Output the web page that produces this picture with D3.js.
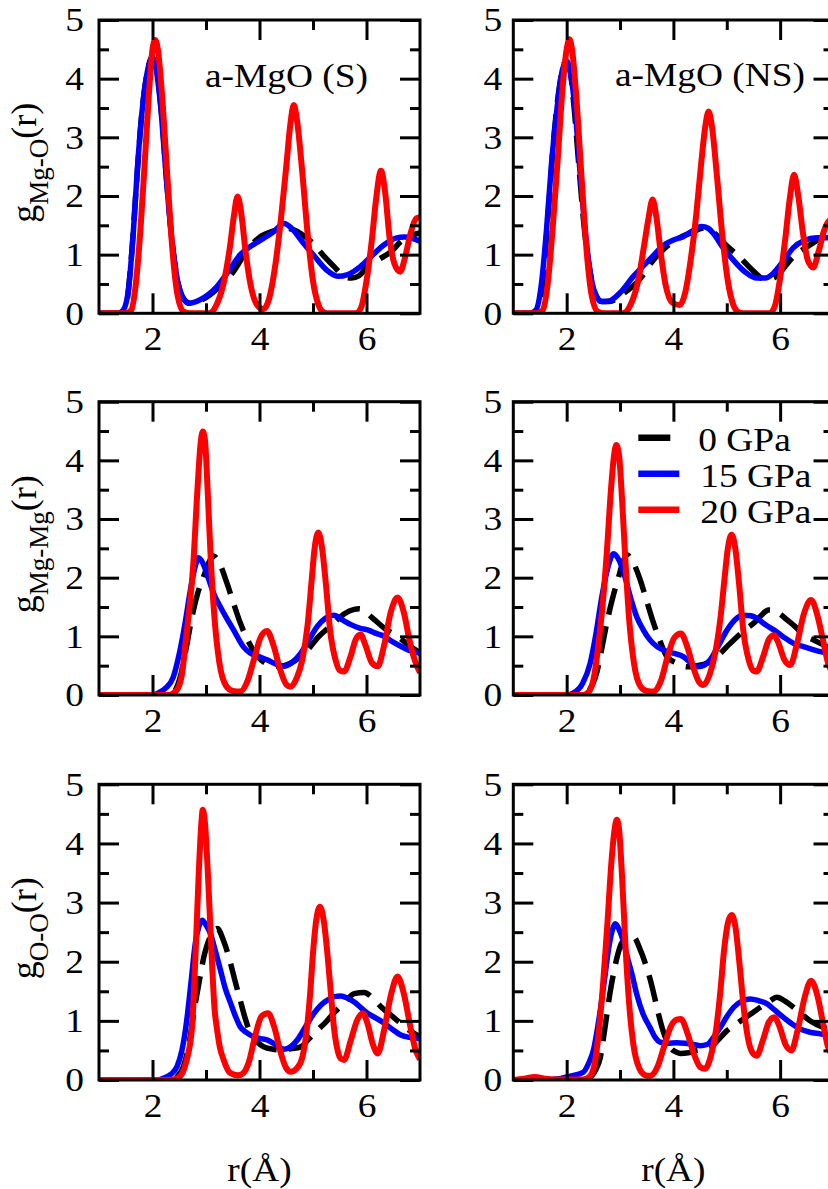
<!DOCTYPE html>
<html><head><meta charset="utf-8">
<script src="https://cdn.jsdelivr.net/npm/d3@7"></script>
<style>
html,body{margin:0;padding:0;background:#fff;}
svg text{font-family:"Liberation Serif","Times New Roman",serif;fill:#000;}
</style></head>
<body><svg id="chart" width="828" height="1189"></svg>
<script>
// ---------------- data ----------------
const seriesNames = ["0 GPa", "15 GPa", "20 GPa"];
const panelTitles = ["a-MgO (S)", "a-MgO (NS)"];
const pairLabels = ["Mg-O", "Mg-Mg", "O-O"];
const xTickValues = [2, 4, 6];
const yTickValues = [0, 1, 2, 3, 4, 5];
const xLabel = "r(Å)";

// g_Mg-O, a-MgO (S)
const mgo_S_0 = [[1.0,0],[1.4,0],[1.5,0.1],[1.6,0.9],[1.7,2.2],[1.8,3.4],[1.9,4.1],[2.0,4.35],[2.08,4.15],[2.17,3.4],[2.27,2.2],[2.37,1.2],[2.47,0.55],[2.58,0.25],[2.7,0.17],[2.85,0.2],[3.05,0.3],[3.3,0.5],[3.52,0.72],[3.75,1.05],[4.02,1.31],[4.25,1.4],[4.5,1.45],[4.77,1.36],[4.99,1.2],[5.2,0.98],[5.39,0.8],[5.58,0.63],[5.72,0.6],[5.86,0.64],[6.0,0.78],[6.23,0.92],[6.46,1.05],[6.64,1.22],[6.82,1.32],[7.0,1.37]];
const mgo_S_15 = [[1.0,0],[1.35,0],[1.45,0.05],[1.55,0.4],[1.64,1.36],[1.72,2.5],[1.8,3.4],[1.9,4.1],[1.99,4.37],[2.07,4.15],[2.15,3.55],[2.25,2.4],[2.35,1.35],[2.45,0.65],[2.55,0.3],[2.68,0.17],[2.89,0.23],[3.2,0.45],[3.52,0.85],[3.64,1.0],[3.85,1.15],[4.08,1.28],[4.25,1.38],[4.46,1.53],[4.6,1.45],[4.8,1.22],[5.02,0.98],[5.25,0.74],[5.46,0.63],[5.65,0.66],[5.89,0.8],[6.1,0.98],[6.33,1.17],[6.55,1.28],[6.71,1.3],[6.85,1.28],[7.0,1.23]];
const mgo_S_20 = [[1.0,0],[1.5,0],[1.6,0.05],[1.7,0.6],[1.78,1.5],[1.85,2.5],[1.93,3.7],[2.0,4.5],[2.05,4.66],[2.1,4.5],[2.18,3.7],[2.28,2.3],[2.38,1.0],[2.47,0.3],[2.58,0.03],[2.7,0],[3.05,0],[3.2,0.15],[3.35,0.6],[3.45,1.15],[3.52,1.65],[3.59,1.99],[3.66,1.7],[3.74,1.05],[3.83,0.5],[3.95,0.15],[4.07,0.07],[4.18,0.25],[4.3,0.85],[4.4,1.6],[4.5,2.5],[4.58,3.25],[4.64,3.55],[4.7,3.3],[4.8,2.4],[4.9,1.35],[5.0,0.55],[5.1,0.15],[5.2,0.02],[5.3,0],[5.8,0],[5.9,0.1],[6.0,0.55],[6.1,1.25],[6.18,1.95],[6.27,2.43],[6.35,2.05],[6.43,1.3],[6.52,0.85],[6.63,0.71],[6.72,0.95],[6.82,1.35],[6.93,1.62],[7.0,1.64]];

// g_Mg-O, a-MgO (NS)
const mgo_NS_0 = [[1.0,0],[1.35,0],[1.47,0.08],[1.57,0.7],[1.67,1.9],[1.77,3.1],[1.87,3.9],[1.97,4.28],[2.05,4.2],[2.13,3.6],[2.23,2.5],[2.33,1.45],[2.43,0.75],[2.53,0.35],[2.66,0.2],[2.8,0.2],[3.05,0.33],[3.37,0.58],[3.6,0.88],[3.85,1.12],[4.1,1.28],[4.35,1.38],[4.55,1.45],[4.75,1.38],[5.0,1.15],[5.25,0.95],[5.5,0.72],[5.7,0.58],[5.87,0.6],[6.05,0.75],[6.25,0.97],[6.5,1.13],[6.7,1.25],[6.88,1.36],[7.0,1.4]];
const mgo_NS_15 = [[1.0,0],[1.3,0],[1.42,0.05],[1.52,0.45],[1.62,1.4],[1.72,2.6],[1.82,3.5],[1.92,4.15],[2.0,4.3],[2.08,4.05],[2.16,3.45],[2.26,2.3],[2.36,1.3],[2.46,0.6],[2.55,0.3],[2.66,0.2],[2.8,0.21],[3.0,0.35],[3.25,0.63],[3.45,0.82],[3.62,0.98],[3.8,1.15],[4.0,1.25],[4.19,1.31],[4.35,1.4],[4.53,1.48],[4.65,1.45],[4.75,1.36],[4.93,1.12],[5.12,0.91],[5.35,0.7],[5.56,0.6],[5.72,0.6],[5.87,0.68],[6.05,0.88],[6.25,1.12],[6.45,1.24],[6.69,1.29],[6.85,1.29],[7.0,1.27]];
const mgo_NS_20 = [[1.0,0],[1.45,0],[1.55,0.05],[1.65,0.55],[1.75,1.6],[1.83,2.6],[1.92,3.8],[2.0,4.5],[2.05,4.67],[2.1,4.5],[2.18,3.7],[2.28,2.3],[2.38,1.0],[2.47,0.3],[2.58,0.03],[2.7,0],[3.05,0],[3.2,0.15],[3.35,0.6],[3.45,1.15],[3.53,1.6],[3.61,1.94],[3.68,1.65],[3.76,1.05],[3.85,0.5],[3.98,0.18],[4.12,0.14],[4.22,0.35],[4.33,0.95],[4.43,1.7],[4.52,2.55],[4.6,3.2],[4.66,3.44],[4.72,3.2],[4.82,2.3],[4.92,1.3],[5.02,0.55],[5.12,0.15],[5.22,0.02],[5.3,0],[5.8,0],[5.9,0.12],[6.0,0.6],[6.1,1.3],[6.18,1.95],[6.26,2.36],[6.34,2.0],[6.43,1.35],[6.52,0.9],[6.62,0.78],[6.72,1.05],[6.82,1.4],[6.92,1.58],[7.0,1.6]];

// g_Mg-Mg, a-MgO (S)
const mgmg_S_0 = [[1.0,0],[2.3,0],[2.4,0.05],[2.52,0.31],[2.63,0.8],[2.74,1.34],[2.85,1.75],[2.96,2.03],[3.05,2.25],[3.14,2.37],[3.25,2.25],[3.39,1.91],[3.52,1.55],[3.64,1.23],[3.8,0.9],[3.96,0.66],[4.1,0.55],[4.27,0.49],[4.45,0.5],[4.6,0.55],[4.77,0.66],[4.93,0.8],[5.08,0.97],[5.23,1.1],[5.39,1.23],[5.58,1.38],[5.77,1.46],[5.87,1.47],[6.0,1.4],[6.14,1.29],[6.35,1.13],[6.58,1.0],[6.8,0.84],[7.0,0.72]];
const mgmg_S_15 = [[1.0,0],[2.0,0],[2.1,0.03],[2.25,0.12],[2.39,0.31],[2.5,0.7],[2.61,1.23],[2.72,1.85],[2.8,2.2],[2.86,2.34],[2.94,2.25],[3.04,2.0],[3.14,1.74],[3.3,1.45],[3.52,1.1],[3.7,0.82],[3.83,0.71],[4.0,0.65],[4.14,0.6],[4.3,0.53],[4.46,0.49],[4.6,0.55],[4.77,0.71],[4.93,0.95],[5.08,1.17],[5.22,1.3],[5.39,1.36],[5.55,1.28],[5.71,1.2],[5.87,1.14],[6.02,1.11],[6.18,1.05],[6.33,1.0],[6.5,0.9],[6.64,0.83],[6.8,0.76],[7.0,0.71]];
const mgmg_S_20 = [[1.0,0],[2.3,0],[2.45,0.08],[2.55,0.35],[2.62,0.9],[2.68,1.4],[2.76,2.2],[2.84,3.5],[2.9,4.3],[2.94,4.49],[2.98,4.35],[3.03,3.5],[3.09,2.3],[3.16,1.3],[3.25,0.55],[3.38,0.15],[3.5,0.07],[3.64,0.06],[3.78,0.25],[3.9,0.62],[4.02,0.98],[4.14,1.09],[4.26,0.85],[4.38,0.45],[4.5,0.18],[4.58,0.14],[4.7,0.3],[4.8,0.6],[4.9,1.2],[4.97,1.9],[5.03,2.5],[5.1,2.77],[5.17,2.5],[5.24,1.9],[5.32,1.1],[5.42,0.6],[5.5,0.42],[5.58,0.4],[5.7,0.65],[5.8,0.95],[5.89,1.03],[5.98,0.85],[6.1,0.55],[6.21,0.49],[6.33,0.85],[6.45,1.4],[6.58,1.66],[6.7,1.4],[6.8,0.95],[6.9,0.6],[7.0,0.38]];

// g_Mg-Mg, a-MgO (NS)
const mgmg_NS_0 = [[1.0,0],[2.3,0],[2.42,0.08],[2.56,0.37],[2.66,0.8],[2.75,1.22],[2.86,1.65],[2.97,2.0],[3.05,2.25],[3.13,2.39],[3.22,2.3],[3.38,1.96],[3.5,1.6],[3.63,1.22],[3.75,0.92],[3.88,0.65],[4.05,0.55],[4.25,0.48],[4.45,0.5],[4.63,0.54],[4.75,0.62],[4.88,0.71],[5.03,0.85],[5.19,0.99],[5.35,1.12],[5.5,1.22],[5.65,1.36],[5.78,1.45],[5.9,1.44],[6.0,1.38],[6.13,1.28],[6.3,1.15],[6.44,1.02],[6.6,0.95],[6.75,0.88],[7.0,0.78]];
const mgmg_NS_15 = [[1.0,0],[2.0,0],[2.12,0.03],[2.3,0.2],[2.44,0.54],[2.55,1.05],[2.66,1.68],[2.78,2.2],[2.88,2.41],[2.98,2.3],[3.09,2.02],[3.2,1.65],[3.31,1.34],[3.43,1.12],[3.56,0.94],[3.7,0.82],[3.88,0.74],[4.05,0.7],[4.19,0.65],[4.32,0.55],[4.44,0.48],[4.56,0.5],[4.69,0.6],[4.85,0.85],[5.0,1.1],[5.15,1.28],[5.31,1.36],[5.45,1.35],[5.56,1.31],[5.72,1.2],[5.88,1.11],[6.06,0.99],[6.25,0.88],[6.45,0.82],[6.63,0.77],[6.8,0.73],[7.0,0.7]];
const mgmg_NS_20 = [[1.0,0],[2.3,0],[2.42,0.06],[2.52,0.35],[2.6,0.9],[2.67,1.5],[2.75,2.4],[2.83,3.5],[2.89,4.1],[2.93,4.26],[2.98,4.1],[3.04,3.3],[3.1,2.3],[3.17,1.3],[3.26,0.55],[3.38,0.15],[3.5,0.07],[3.63,0.06],[3.77,0.25],[3.89,0.65],[4.02,0.98],[4.14,1.05],[4.26,0.82],[4.38,0.45],[4.48,0.22],[4.56,0.17],[4.68,0.35],[4.78,0.7],[4.88,1.3],[4.96,2.0],[5.02,2.5],[5.09,2.73],[5.16,2.5],[5.23,1.9],[5.31,1.1],[5.41,0.6],[5.49,0.42],[5.56,0.4],[5.68,0.65],[5.79,0.95],[5.88,1.02],[5.97,0.88],[6.08,0.6],[6.19,0.51],[6.31,0.85],[6.45,1.4],[6.58,1.62],[6.7,1.35],[6.8,0.95],[6.9,0.54],[7.0,0.35]];

// g_O-O, a-MgO (S)
const oo_S_0 = [[1.0,0],[2.35,0],[2.45,0.05],[2.58,0.23],[2.68,0.6],[2.77,1.13],[2.87,1.65],[2.96,2.08],[3.08,2.42],[3.21,2.56],[3.33,2.35],[3.46,1.97],[3.55,1.65],[3.64,1.35],[3.73,1.05],[3.83,0.79],[3.95,0.65],[4.08,0.56],[4.25,0.52],[4.39,0.51],[4.6,0.53],[4.77,0.56],[4.93,0.7],[5.08,0.84],[5.24,0.98],[5.39,1.13],[5.58,1.3],[5.77,1.46],[5.96,1.48],[6.1,1.4],[6.27,1.24],[6.45,1.1],[6.64,0.96],[6.8,0.84],[7.0,0.73]];
const oo_S_15 = [[1.0,0],[2.1,0],[2.2,0.03],[2.35,0.1],[2.46,0.23],[2.55,0.5],[2.64,1.01],[2.72,1.65],[2.8,2.31],[2.87,2.6],[2.93,2.7],[3.0,2.62],[3.08,2.48],[3.17,2.2],[3.27,1.86],[3.36,1.55],[3.46,1.3],[3.55,1.08],[3.64,0.9],[3.76,0.8],[3.89,0.73],[4.02,0.7],[4.14,0.68],[4.3,0.6],[4.46,0.52],[4.58,0.56],[4.71,0.68],[4.86,0.9],[5.02,1.13],[5.15,1.27],[5.27,1.35],[5.4,1.41],[5.52,1.42],[5.65,1.38],[5.77,1.32],[5.9,1.22],[6.02,1.13],[6.17,1.05],[6.33,0.96],[6.48,0.86],[6.64,0.76],[6.8,0.72],[7.0,0.7]];
const oo_S_20 = [[1.0,0],[2.3,0],[2.46,0.03],[2.56,0.12],[2.64,0.34],[2.7,0.6],[2.74,0.9],[2.8,2.03],[2.86,3.4],[2.91,4.3],[2.94,4.57],[2.98,4.35],[3.04,3.4],[3.11,2.03],[3.16,1.2],[3.2,0.9],[3.26,0.55],[3.33,0.34],[3.45,0.12],[3.6,0.08],[3.7,0.12],[3.8,0.3],[3.92,0.75],[4.04,1.08],[4.16,1.13],[4.28,0.88],[4.4,0.45],[4.5,0.2],[4.58,0.14],[4.7,0.2],[4.8,0.38],[4.89,0.9],[4.95,1.5],[4.99,2.03],[5.06,2.7],[5.13,2.93],[5.2,2.7],[5.28,2.03],[5.34,1.4],[5.39,0.9],[5.46,0.5],[5.52,0.36],[5.58,0.34],[5.7,0.65],[5.82,1.0],[5.93,1.13],[6.02,0.95],[6.12,0.6],[6.21,0.45],[6.33,0.85],[6.46,1.45],[6.58,1.75],[6.7,1.45],[6.82,0.9],[6.92,0.5],[7.0,0.35]];

// g_O-O, a-MgO (NS)
const oo_NS_0 = [[1.0,0],[2.35,0],[2.45,0.05],[2.55,0.18],[2.63,0.38],[2.72,0.9],[2.81,1.46],[2.9,1.9],[3.0,2.25],[3.12,2.4],[3.25,2.42],[3.38,2.2],[3.5,1.9],[3.6,1.58],[3.69,1.23],[3.8,0.85],[3.94,0.55],[4.06,0.47],[4.13,0.45],[4.28,0.46],[4.44,0.5],[4.56,0.52],[4.69,0.55],[4.84,0.68],[5.0,0.83],[5.15,0.93],[5.31,1.03],[5.47,1.13],[5.63,1.23],[5.8,1.33],[5.94,1.4],[6.1,1.33],[6.25,1.23],[6.4,1.12],[6.56,1.0],[6.81,0.89],[7.0,0.85]];
const oo_NS_15 = [[1.0,0],[1.6,0],[1.85,0.02],[2.0,0.05],[2.15,0.08],[2.31,0.13],[2.42,0.3],[2.5,0.5],[2.6,1.0],[2.69,1.57],[2.8,2.3],[2.86,2.55],[2.91,2.64],[2.98,2.55],[3.06,2.35],[3.13,2.1],[3.22,1.8],[3.31,1.46],[3.43,1.12],[3.56,0.89],[3.66,0.72],[3.75,0.64],[3.9,0.62],[4.06,0.63],[4.22,0.62],[4.38,0.6],[4.5,0.58],[4.63,0.6],[4.75,0.72],[4.88,0.89],[5.0,1.07],[5.13,1.23],[5.3,1.34],[5.44,1.37],[5.6,1.34],[5.75,1.29],[5.9,1.18],[6.06,1.06],[6.22,0.95],[6.38,0.86],[6.55,0.81],[6.75,0.78],[7.0,0.74]];
const oo_NS_20 = [[1.0,0],[1.2,0.02],[1.4,0.05],[1.6,0.02],[1.8,0.01],[2.3,0.01],[2.42,0.05],[2.52,0.25],[2.6,0.8],[2.68,1.6],[2.76,2.6],[2.84,3.7],[2.9,4.25],[2.94,4.4],[2.98,4.25],[3.04,3.4],[3.1,2.3],[3.17,1.3],[3.25,0.6],[3.36,0.2],[3.48,0.08],[3.56,0.07],[3.7,0.22],[3.82,0.55],[3.95,0.9],[4.06,1.02],[4.14,1.03],[4.26,0.8],[4.38,0.45],[4.5,0.22],[4.59,0.19],[4.7,0.4],[4.8,0.85],[4.88,1.5],[4.95,2.2],[5.02,2.65],[5.09,2.79],[5.16,2.6],[5.24,1.95],[5.32,1.2],[5.41,0.65],[5.5,0.44],[5.56,0.41],[5.68,0.68],[5.79,0.98],[5.89,1.06],[5.99,0.9],[6.1,0.6],[6.21,0.5],[6.33,0.85],[6.46,1.4],[6.58,1.68],[6.7,1.42],[6.8,0.98],[6.9,0.55],[7.0,0.4]];

const panelData = [
  [[mgo_S_0, mgo_S_15, mgo_S_20], [mgo_NS_0, mgo_NS_15, mgo_NS_20]],
  [[mgmg_S_0, mgmg_S_15, mgmg_S_20], [mgmg_NS_0, mgmg_NS_15, mgmg_NS_20]],
  [[oo_S_0, oo_S_15, oo_S_20], [oo_NS_0, oo_NS_15, oo_NS_20]]
];

// ---------------- layout & style ----------------
const cols = [{x0: 99, x1: 420, labPad: 15}, {x0: 513.3, x1: 833.5, labPad: 11}];
const rows = [{top: 20, bot: 313.3}, {top: 401.7, bot: 695}, {top: 784.3, bot: 1080}];
const colors = ["#000000", "#0000ff", "#ff0000"];
const widths = [5.5, 5.5, 6];
const dashes = ["27,12", null, null];
const FS = 34;      // base font size
const SX = 1.1;     // horizontal stretch of the original's lettering

const svg = d3.select("#chart");
svg.append("rect").attr("width", 828).attr("height", 1189).attr("fill", "#fff");

// stretch a text horizontally about the point (ax, ay)
function stretch(t, ax, ay) {
  t.attr("transform", `translate(${ax},${ay}) scale(${SX},1) translate(${-ax},${-ay})`);
}

rows.forEach((row, ri) => {
  cols.forEach((col, ci) => {
    const x = d3.scaleLinear().domain([1, 7]).range([col.x0, col.x1]);
    const y = d3.scaleLinear().domain([0, 5]).range([row.bot, row.top]);
    const g = svg.append("g");
    const cid = `clip-${ri}-${ci}`;
    g.append("clipPath").attr("id", cid).append("rect")
      .attr("x", col.x0).attr("y", row.top).attr("width", col.x1 - col.x0).attr("height", row.bot - row.top);

    // curves
    const line = d3.line().x(d => x(d[0])).y(d => y(d[1])).curve(d3.curveMonotoneX);
    const curves = g.append("g").attr("clip-path", `url(#${cid})`);
    panelData[ri][ci].forEach((ser, si) => {
      curves.append("path").datum(ser).attr("d", line)
        .attr("fill", "none").attr("stroke", colors[si]).attr("stroke-width", widths[si])
        .attr("stroke-linejoin", "round")
        .attr("stroke-dasharray", dashes[si]);
    });

    // axes: ticks pointing inwards on all sides
    const minorX = [3, 5];
    const minorY = [0.5, 1.5, 2.5, 3.5, 4.5];
    const styleAxis = (sel) => {
      sel.select(".domain").remove();
      sel.selectAll("line").attr("stroke", "#000").attr("stroke-width", 3);
      sel.selectAll("text").style("font-family", '"Liberation Serif", serif').style("font-size", FS + "px").attr("fill", "#000")
        .each(function() { const t = d3.select(this); stretch(t, +t.attr("x") || 0, 0); });
    };
    g.append("g").attr("transform", `translate(0,${row.bot})`)
      .call(d3.axisBottom(x).tickValues(xTickValues).tickSize(-20).tickPadding(13).tickFormat(d3.format("d")))
      .call(styleAxis);
    g.append("g").attr("transform", `translate(0,${row.bot})`)
      .call(d3.axisBottom(x).tickValues(minorX).tickSize(-10).tickFormat("")).call(styleAxis);
    g.append("g").attr("transform", `translate(0,${row.top})`)
      .call(d3.axisTop(x).tickValues(xTickValues).tickSize(-20).tickFormat("")).call(styleAxis);
    g.append("g").attr("transform", `translate(0,${row.top})`)
      .call(d3.axisTop(x).tickValues(minorX).tickSize(-10).tickFormat("")).call(styleAxis);
    g.append("g").attr("transform", `translate(${col.x0},0)`)
      .call(d3.axisLeft(y).tickValues(yTickValues).tickSize(-20).tickPadding(col.labPad).tickFormat(d3.format("d")))
      .call(styleAxis);
    g.append("g").attr("transform", `translate(${col.x0},0)`)
      .call(d3.axisLeft(y).tickValues(minorY).tickSize(-10).tickFormat("")).call(styleAxis);
    g.append("g").attr("transform", `translate(${col.x1},0)`)
      .call(d3.axisRight(y).tickValues(yTickValues).tickSize(-20).tickFormat("")).call(styleAxis);
    g.append("g").attr("transform", `translate(${col.x1},0)`)
      .call(d3.axisRight(y).tickValues(minorY).tickSize(-10).tickFormat("")).call(styleAxis);

    // frame
    g.append("rect").attr("x", col.x0).attr("y", row.top)
      .attr("width", col.x1 - col.x0).attr("height", row.bot - row.top)
      .attr("fill", "none").attr("stroke", "#000").attr("stroke-width", 3);

    // panel title (top row)
    if (ri === 0) {
      const tx = ci === 0 ? 205 : 615, ty = ci === 0 ? 87 : 86;
      const t = g.append("text").attr("x", tx).attr("y", ty).style("font-size", FS + "px").text(panelTitles[ci]);
      stretch(t, tx, ty);
    }
    // legend (middle row, right)
    if (ri === 1 && ci === 1) {
      seriesNames.forEach((name, si) => {
        const ly = row.top + 36 + si * 36;
        g.append("line").attr("x1", col.x0 + 125).attr("x2", col.x0 + 166)
          .attr("y1", ly).attr("y2", ly)
          .attr("stroke", colors[si]).attr("stroke-width", 6.5)
          .attr("stroke-dasharray", si === 0 ? "32,20" : null);
        const tx = col.x0 + 185 + (si === 0 ? 0 : 2), ty = ly + 13;
        const t = g.append("text").attr("x", tx).attr("y", ty).style("font-size", FS + "px").text(name);
        stretch(t, tx, ty);
      });
    }
    // y label (left column)
    if (ci === 0) {
      const cy = (row.top + row.bot) / 2 - 4;
      const t = g.append("text").attr("transform", `translate(36,${cy}) rotate(-90)`)
        .attr("text-anchor", "middle").style("font-size", "36px");
      t.append("tspan").text("g");
      t.append("tspan").attr("dy", 12).style("font-size", "27px").text(pairLabels[ri]);
      t.append("tspan").attr("dy", -12).text("(r)");
    }
    // x label (bottom row)
    if (ri === 2) {
      const tx = x(4), ty = 1181;
      const t = g.append("text").attr("x", tx).attr("y", ty).attr("text-anchor", "middle")
        .style("font-size", FS + "px").text(xLabel);
      stretch(t, tx, ty);
    }
  });
});
</script>
</body></html>
